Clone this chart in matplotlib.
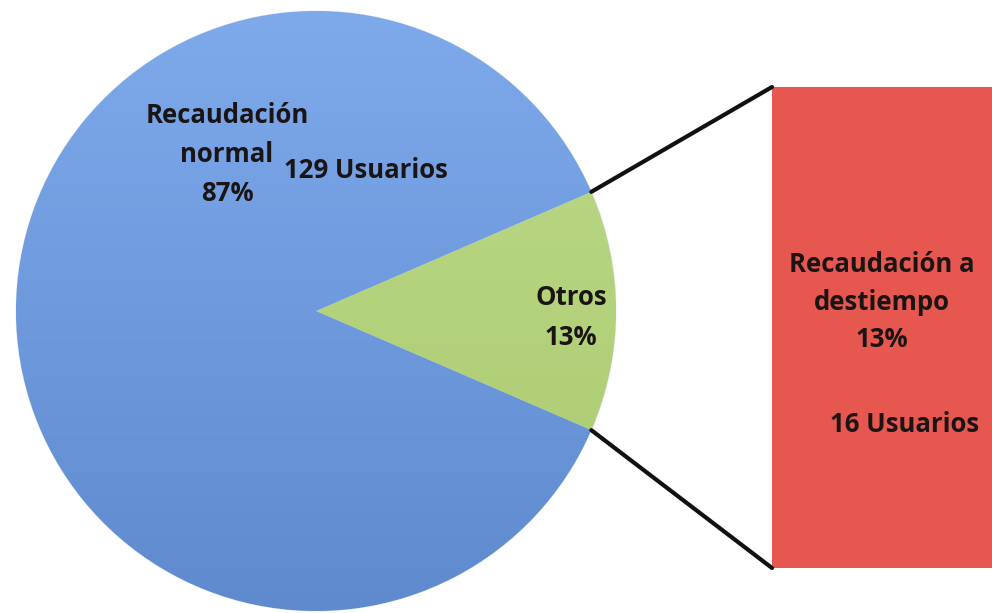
import numpy as np
import matplotlib
matplotlib.use("Agg")
import matplotlib.pyplot as plt
from matplotlib.patches import ConnectionPatch
from matplotlib.colors import LinearSegmentedColormap

# ---- data ----
pie_labels = ["Otros", "Recaudación normal"]
pie_values = [13, 87]
pie_users = [None, 129]
bar_labels = ["Recaudación a destiempo"]
bar_values = [13]
bar_users = [16]

FONT = ["Open Sans", "DejaVu Sans"]
TXT = "#1a1414"

fig = plt.figure(figsize=(9.92, 6.13), dpi=100)
ax = fig.add_axes([0, 0, 1, 1])
W, H = 992, 613

cx, cy, R = 316, H - 311, 300
start = -pie_values[0] / sum(pie_values) * 360 / 2
wedges, _ = ax.pie(pie_values, colors=["#b3d37a", "#729fe4"], startangle=start,
                   counterclock=True, center=(cx, cy), radius=R,
                   wedgeprops=dict(linewidth=0.8, edgecolor="#e8eef8"))
ax.set_xlim(0, W)
ax.set_ylim(0, H)
ax.set_aspect("auto")
ax.axis("off")

# soft vertical shading on each wedge
grads = [("#bedb8a", "#a9c96e"), ("#7eaaec", "#5f8ace")]
for w, (top, bot) in zip(wedges, grads):
    cmap = LinearSegmentedColormap.from_list("g", [bot, top])
    grad = np.linspace(0, 1, 256).reshape(-1, 1)
    im = ax.imshow(grad, cmap=cmap, origin="lower", aspect="auto",
                   extent=(cx - R, cx + R, cy - R, cy + R), zorder=w.get_zorder() + 0.1)
    im.set_clip_path(w)
ax.set_xlim(0, W)
ax.set_ylim(0, H)

# pie labels
fs = 18.5
for i, line in enumerate(["Recaudación", "normal", f"{pie_values[1]}%"]):
    ax.text(227, H - (123 + 39 * i), line, ha="center", va="baseline",
            fontsize=fs, fontweight="bold", family=FONT, color=TXT, zorder=5)
ax.text(366, H - 178, f"{pie_users[1]} Usuarios", ha="center", va="baseline",
        fontsize=fs, fontweight="bold", family=FONT, color=TXT, zorder=5)
for i, line in enumerate([pie_labels[0], f"{pie_values[0]}%"]):
    ax.text(571, H - (305 + 40 * i), line, ha="center", va="baseline",
            fontsize=fs, fontweight="bold", family=FONT, color=TXT, zorder=5)

# bar of pie
bx0, by0, by1 = 772, 45, 526
bax = fig.add_axes([bx0 / W, by0 / H, (W - bx0) / W, (by1 - by0) / H])
bax.bar([0], bar_values, width=2.0, align="edge", color="#e5574f", edgecolor="none")
bax.set_xlim(0, 1)
bax.set_ylim(0, sum(bar_values))
bax.axis("off")
bax.set_zorder(1)
ax.set_zorder(2)

for i, line in enumerate(["Recaudación a", "destiempo", f"{bar_values[0]}%"]):
    ax.text(882, H - (272 + 37.5 * i), line, ha="center", va="baseline",
            fontsize=fs, fontweight="bold", family=FONT, color=TXT, zorder=6)
ax.text(905, H - 432, f"{bar_users[0]} Usuarios", ha="center", va="baseline",
        fontsize=fs, fontweight="bold", family=FONT, color=TXT, zorder=6)

# connector lines
th = np.deg2rad(abs(start))
for sgn, yb in [(1, sum(bar_values)), (-1, 0)]:
    p = (cx + R * np.cos(th), cy + sgn * R * np.sin(th))
    con = ConnectionPatch(xyA=p, coordsA=ax.transData, xyB=(0, yb), coordsB=bax.transData,
                          color="#111111", lw=3, zorder=3)
    fig.add_artist(con)

fig.savefig("out.png", dpi=100)
